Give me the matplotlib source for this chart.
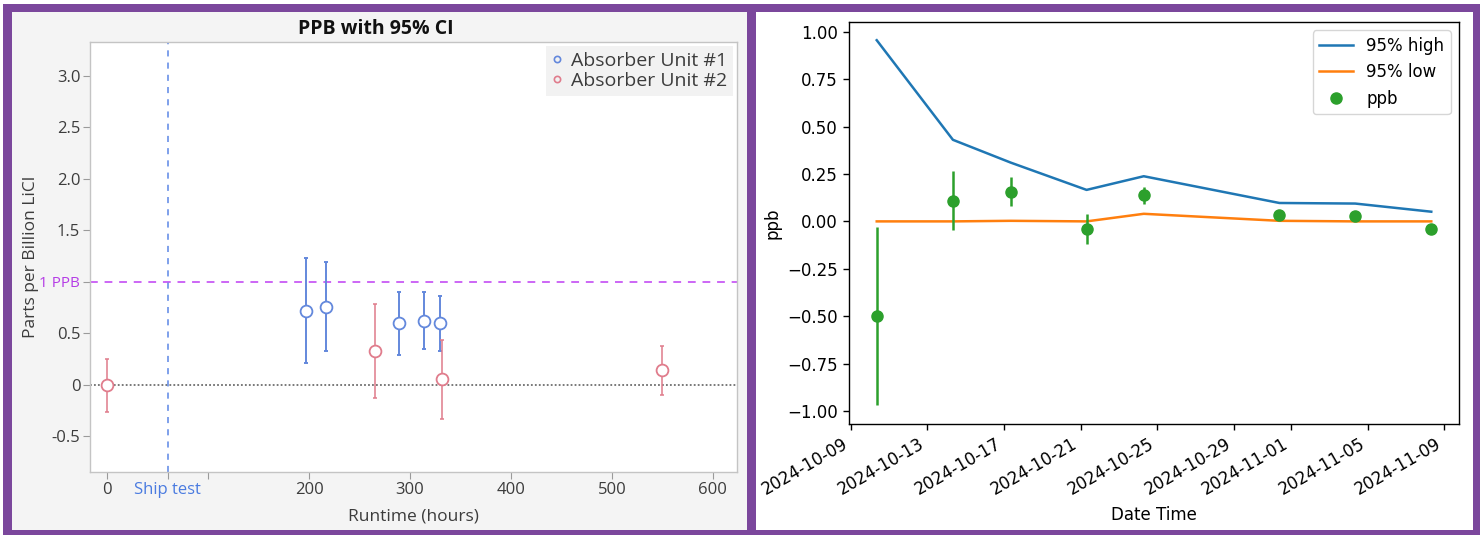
import numpy as np
import pandas as pd
import matplotlib
matplotlib.use("Agg")
import matplotlib.pyplot as plt
from matplotlib.patches import Rectangle
from matplotlib.ticker import MultipleLocator

# left chart data (runtime hours)
unit1_hours = [197, 217, 289, 314, 330]
unit1_ppb = [0.72, 0.76, 0.60, 0.62, 0.60]
unit1_lo = [0.215, 0.33, 0.29, 0.35, 0.33]
unit1_hi = [1.23, 1.19, 0.90, 0.90, 0.86]

unit2_hours = [0, 265, 332, 550]
unit2_ppb = [0.0, 0.33, 0.06, 0.15]
unit2_lo = [-0.265, -0.13, -0.33, -0.095]
unit2_hi = [0.255, 0.79, 0.44, 0.38]

ship_test = 60
limit_ppb = 1.0

# right chart data (dates)
dates = ["2024-10-10 08:30", "2024-10-14 08:00", "2024-10-17 08:20", "2024-10-21 07:30",
         "2024-10-24 07:10", "2024-10-31 09:10", "2024-11-04 08:10", "2024-11-08 07:30"]
ppb = [-0.50, 0.11, 0.157, -0.04, 0.137, 0.032, 0.027, -0.038]
ppb_err = [0.47, 0.155, 0.075, 0.078, 0.045, 0.012, 0.015, 0.01]
high95 = [0.955, 0.43, 0.31, 0.166, 0.238, 0.097, 0.094, 0.051]
low95 = [0.0, 0.0, 0.003, 0.0, 0.04, 0.003, 0.0, 0.0]

W, H = 1484, 536
fig = plt.figure(figsize=(W / 100, H / 100), dpi=100)


def box(x0, y0, x1, y1):
    # pixel box -> figure fraction rect
    return [x0 / W, 1 - y1 / H, (x1 - x0) / W, (y1 - y0) / H]


def panel(x0, y0, x1, y1, color, z):
    r = box(x0, y0, x1, y1)
    fig.add_artist(Rectangle((r[0], r[1]), r[2], r[3], transform=fig.transFigure,
                             facecolor=color, edgecolor="none", zorder=z))


# purple frames
panel(3, 4, 1480, 535, "#7b479c", -10)
panel(12, 12, 747, 530, "#f4f4f4", -9)
panel(756, 12, 1473, 530, "white", -9)

# ---------------- left chart ----------------
blue = "#6388dc"
red = "#e07c8c"
grey_txt = "#3c3c3c"
lfont = ["Open Sans", "DejaVu Sans"]

ax1 = fig.add_axes(box(90, 42, 737, 472))
ax1.set_facecolor("white")

e1 = np.array([np.subtract(unit1_ppb, unit1_lo), np.subtract(unit1_hi, unit1_ppb)])
e2 = np.array([np.subtract(unit2_ppb, unit2_lo), np.subtract(unit2_hi, unit2_ppb)])

ax1.errorbar(unit1_hours, unit1_ppb, yerr=e1, fmt="none", ecolor=blue, elinewidth=1.4,
             capsize=1.2, capthick=1.4, zorder=3)
ax1.errorbar(unit2_hours, unit2_ppb, yerr=e2, fmt="none", ecolor=red, elinewidth=1.4,
             capsize=1.2, capthick=1.4, alpha=0.8, zorder=3)
ax1.plot(unit1_hours, unit1_ppb, "o", ms=8.5, mfc="white", mec=blue, mew=1.3, zorder=4)
ax1.plot(unit2_hours, unit2_ppb, "o", ms=8.5, mfc="white", mec=red, mew=1.3, zorder=4)

# legend uses small markers
ax1.plot([], [], "o", ms=4.5, mfc="none", mec=blue, mew=1.2, label="Absorber Unit #1")
ax1.plot([], [], "o", ms=4.5, mfc="none", mec=red, mew=1.2, label="Absorber Unit #2")

ax1.axhline(limit_ppb, color="#cc66f5", ls=(0, (4, 3.5)), lw=1.4, zorder=2)
ax1.axhline(0, color="#6e6e6e", ls=(0, (1, 1.2)), lw=1.3, zorder=2)
ax1.axvline(ship_test, color="#5b86e5", ls=(0, (4, 4)), lw=1.1, zorder=2)

ax1.set_xlim(-17, 624)
ax1.set_ylim(-0.845, 3.33)

ax1.set_xticks([0, ship_test, 200, 300, 400, 500, 600])
ax1.set_xticklabels(["0", "Ship test", "200", "300", "400", "500", "600"], family=lfont,
                    fontsize=12, color=grey_txt)
ax1.set_xticks([100], minor=True)
ax1.get_xticklabels()[1].set_color("#4a7be0")

ax1.set_yticks([-0.5, 0, 0.5, 1.0, 1.5, 2.0, 2.5, 3.0])
ax1.set_yticklabels(["-0.5", "0", "0.5", "1 PPB", "1.5", "2.0", "2.5", "3.0"], family=lfont,
                    fontsize=12, color=grey_txt)
ax1.get_yticklabels()[3].set_color("#b53de6")
ax1.get_yticklabels()[3].set_fontsize(11)

ax1.tick_params(which="both", length=5, width=0.8, color="#9a9a9a", pad=2)
for s in ax1.spines.values():
    s.set_color("#c4c4c4")
    s.set_linewidth(1.0)

ax1.set_xlabel("Runtime (hours)", family=lfont, fontsize=12.5, color=grey_txt, labelpad=8)
ax1.set_ylabel("Parts per Billion LiCl", family=lfont, fontsize=12.5, color=grey_txt, labelpad=0)

leg = ax1.legend(loc="upper right", frameon=True, fancybox=False, borderaxespad=0.2,
                 prop={"family": lfont, "size": 14}, handlelength=0.6, handletextpad=0.4,
                 labelspacing=0.1, borderpad=0.3, labelcolor=grey_txt)
leg.get_frame().set_facecolor("#f2f2f2")
leg.get_frame().set_edgecolor("none")
leg.get_frame().set_alpha(1)

fig.text(376 / W, 1 - 29 / H, "PPB with 95% CI", ha="center", va="center",
         family=lfont, fontsize=14, fontweight="bold", color="#111111")

# ---------------- right chart ----------------
t = pd.to_datetime(dates)

ax2 = fig.add_axes(box(849, 22, 1459, 424))
ax2.plot(t, high95, color="C0", lw=1.8, label="95% high")
ax2.plot(t, low95, color="C1", lw=1.8, label="95% low")
ax2.errorbar(t, ppb, yerr=ppb_err, fmt="none", ecolor="C2", elinewidth=1.8)
ax2.plot(t, ppb, "o", color="C2", ms=8, label="ppb")

ax2.set_ylim(-1.068, 1.051)
ax2.yaxis.set_major_locator(MultipleLocator(0.25))
ax2.tick_params(labelsize=12, length=4.5, width=1)
for s in ax2.spines.values():
    s.set_linewidth(1)
plt.setp(ax2.get_xticklabels(), rotation=30, ha="right")
ax2.set_xlabel("Date Time", fontsize=12, labelpad=5)
ax2.set_ylabel("ppb", fontsize=12)
ax2.legend(loc="upper right", fontsize=12)

fig.savefig("out.png", dpi=100)
